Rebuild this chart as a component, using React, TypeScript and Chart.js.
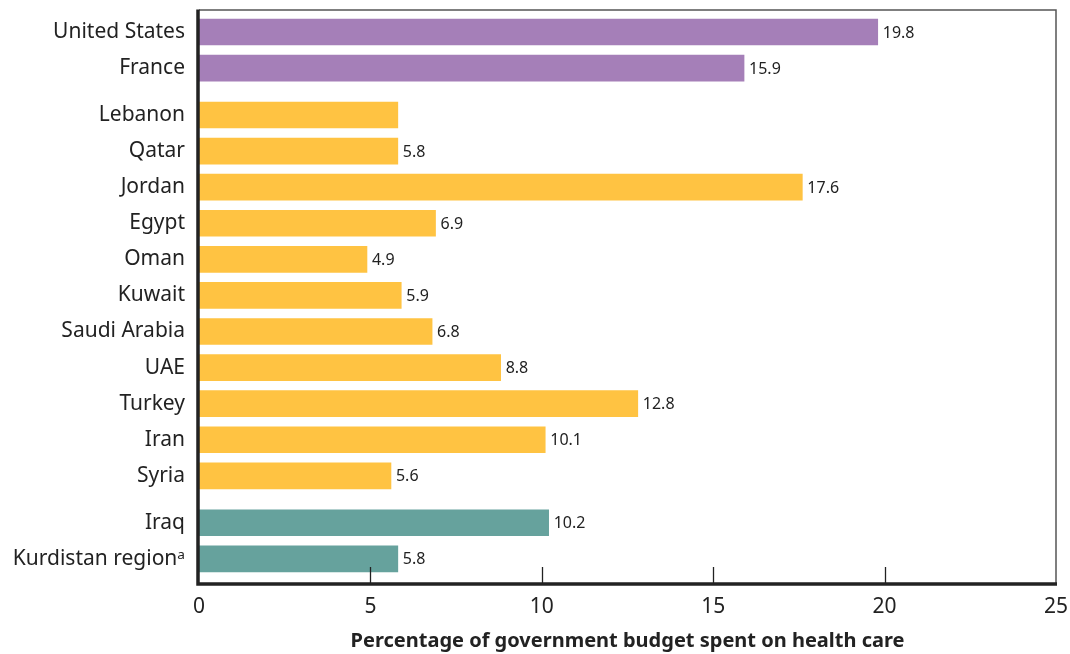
import React, { useEffect, useRef } from "react";
import { Chart, registerables } from "chart.js";

Chart.register(...registerables);

const categories = [
  "United States", "France", "Lebanon", "Qatar", "Jordan", "Egypt", "Oman",
  "Kuwait", "Saudi Arabia", "UAE", "Turkey", "Iran", "Syria", "Iraq", "Kurdistan regionᵃ",
];
const values = [19.8, 15.9, 5.8, 5.8, 17.6, 6.9, 4.9, 5.9, 6.8, 8.8, 12.8, 10.1, 5.6, 10.2, 5.8];
const valueLabels = ["19.8", "15.9", "", "5.8", "17.6", "6.9", "4.9", "5.9", "6.8", "8.8", "12.8", "10.1", "5.6", "10.2", "5.8"];
const groups = [0, 0, 1, 1, 1, 1, 1, 1, 1, 1, 1, 1, 1, 2, 2];
const groupColors = ["#a57fb8", "#ffc342", "#66a29d"];
const xTickValues = [0, 5, 10, 15, 20, 25];
const xTitle = "Percentage of government budget spent on health care";

const GROUP_GAP = 0.3;
const positions = categories.map((_, i) => i + groups[i] * GROUP_GAP);

const zeroPad = (scale: any) => {
  scale.paddingTop = 0;
  scale.paddingBottom = 0;
  scale.paddingLeft = 0;
  scale.paddingRight = 0;
};

const framePlugin = {
  id: "frame",
  afterDatasetsDraw(chart: any) {
    const { ctx, chartArea } = chart;
    const { left, right, top, bottom } = chartArea;
    const xs = chart.scales.x;
    ctx.save();
    ctx.strokeStyle = "#555";
    ctx.lineWidth = 1.5;
    ctx.beginPath();
    ctx.moveTo(left, top);
    ctx.lineTo(right, top);
    ctx.lineTo(right, bottom);
    ctx.stroke();
    ctx.strokeStyle = "#222";
    ctx.lineWidth = 1.3;
    xTickValues.forEach((v) => {
      if (v === 0 || v === 25) return;
      const px = Math.round(xs.getPixelForValue(v)) + 0.5;
      ctx.beginPath();
      ctx.moveTo(px, bottom - 16);
      ctx.lineTo(px, bottom);
      ctx.stroke();
    });
    ctx.strokeStyle = "#222";
    ctx.lineWidth = 3.5;
    ctx.beginPath();
    ctx.moveTo(left - 1, top - 0.5);
    ctx.lineTo(left - 1, bottom + 1);
    ctx.lineTo(right + 1, bottom + 1);
    ctx.stroke();
    ctx.fillStyle = "#222";
    ctx.font = "16px 'Noto Sans'";
    ctx.textAlign = "left";
    ctx.textBaseline = "middle";
    const meta = chart.getDatasetMeta(0);
    meta.data.forEach((bar: any, i: number) => {
      const t = valueLabels[i];
      if (!t) return;
      ctx.fillText(t, bar.x + 5, bar.y + 1);
    });
    ctx.restore();
  },
};

export default function App() {
  const ref = useRef<HTMLCanvasElement>(null);
  useEffect(() => {
    if (!ref.current) return;
    const chart = new Chart(ref.current, {
      type: "bar",
      data: {
        datasets: [
          {
            data: values.map((v, i) => ({ x: v, y: positions[i] })) as any,
            backgroundColor: values.map((_, i) => groupColors[groups[i]]),
            barThickness: 26,
            borderWidth: 0,
          },
        ],
      },
      options: {
        indexAxis: "y",
        animation: false,
        responsive: false,
        maintainAspectRatio: false,
        layout: { autoPadding: false, padding: { top: 10, right: 14, left: 0, bottom: 0 } },
        plugins: { legend: { display: false }, tooltip: { enabled: false } },
        scales: {
          x: {
            type: "linear",
            min: 0,
            max: 25,
            offset: false,
            grid: { display: false, drawTicks: false },
            border: { display: false },
            afterBuildTicks: (scale: any) => {
              scale.ticks = xTickValues.map((v) => ({ value: v }));
            },
            afterFit: (scale: any) => {
              scale.height = 71;
              zeroPad(scale);
            },
            ticks: {
              padding: 11,
              color: "#222",
              font: { family: "'Noto Sans'", size: 21 },
              maxRotation: 0,
            },
            title: {
              display: true,
              text: xTitle,
              color: "#222",
              font: { family: "'Noto Sans'", size: 20, weight: "bold" },
              padding: { top: 0, bottom: 1 },
            },
          },
          y: {
            type: "linear",
            reverse: true,
            offset: false,
            min: -0.61,
            max: 15.27,
            grid: { display: false, drawTicks: false },
            border: { display: false },
            afterBuildTicks: (scale: any) => {
              scale.ticks = positions.map((p) => ({ value: p }));
            },
            afterFit: (scale: any) => {
              scale.width = 199;
              zeroPad(scale);
            },
            ticks: {
              padding: 14,
              color: "#222",
              font: { family: "'Noto Sans'", size: 21 },
              autoSkip: false,
              callback: (value: any) => {
                const idx = positions.findIndex((p) => Math.abs(p - Number(value)) < 1e-6);
                return idx >= 0 ? categories[idx] : "";
              },
            },
          },
        },
      },
      plugins: [framePlugin],
    });
    return () => chart.destroy();
  }, []);
  return (
    <div style={{ position: "fixed", left: 0, top: 0, width: 1070, height: 654, background: "#fff" }}>
      <canvas ref={ref} width={1070} height={654} style={{ width: 1070, height: 654 }} />
    </div>
  );
}
